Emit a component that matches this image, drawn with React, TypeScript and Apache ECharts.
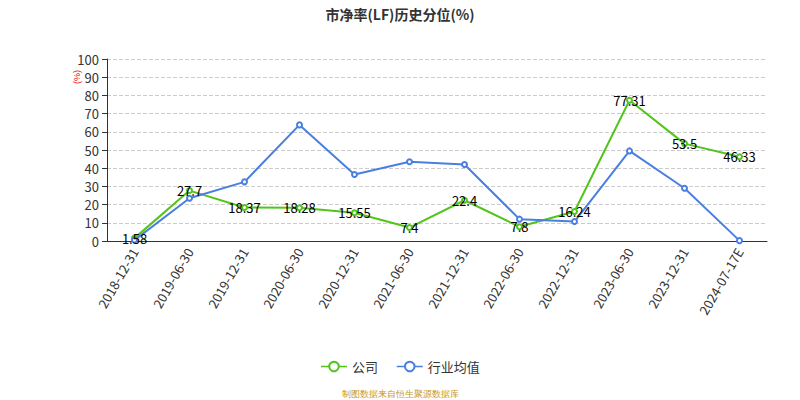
import React, { useEffect, useRef } from "react";
import * as echarts from "echarts";

const categories = [
  "2018-12-31", "2019-06-30", "2019-12-31", "2020-06-30", "2020-12-31", "2021-06-30",
  "2021-12-31", "2022-06-30", "2022-12-31", "2023-06-30", "2023-12-31", "2024-07-17E",
];
const companyValues = [1.58, 27.7, 18.37, 18.28, 15.55, 7.4, 22.4, 7.8, 16.24, 77.31, 53.5, 46.33];
const industryValues = [0.5, 23.5, 32.5, 63.8, 36.5, 43.5, 42, 12, 10.7, 49.5, 29, 0.2];
const yTicks = { min: 0, max: 100, interval: 10 };

export default function App() {
  const ref = useRef<HTMLDivElement>(null);
  useEffect(() => {
    if (!ref.current) return;
    const chart = echarts.init(ref.current, undefined, { renderer: "svg" });
    chart.setOption({
      animation: false,
      textStyle: { fontFamily: "'Noto Sans CJK SC', 'Noto Sans', sans-serif" },
      title: {
        text: "市净率(LF)历史分位(%)",
        left: "center",
        top: 2,
        textStyle: { fontSize: 14, fontWeight: "bold", color: "#333" },
      },
      grid: { left: 107, right: 33, top: 59, bottom: 159 },
      legend: {
        bottom: 22,
        left: "center",
        itemGap: 18,
        itemWidth: 26,
        itemHeight: 12,
        lineStyle: { width: 1.5 },
        itemStyle: { borderWidth: 1.2 },
        textStyle: { fontSize: 13, color: "#333" },
        data: ["公司", "行业均值"],
      },
      graphic: [
        {
          type: "text",
          x: 72,
          y: 84,
          rotation: Math.PI / 2,
          style: { text: "(%)", fill: "#e00", fontSize: 9 },
        },
        {
          type: "text",
          left: "center",
          top: 389,
          style: { text: "制图数据来自恒生聚源数据库", fill: "#c8961e", fontSize: 9 },
        },
      ],
      xAxis: {
        type: "category",
        data: categories,
        boundaryGap: true,
        axisLine: { lineStyle: { color: "#333" } },
        axisTick: { alignWithLabel: false, lineStyle: { color: "#333" } },
        axisLabel: { rotate: 60, color: "#333", fontSize: 13, interval: 0 },
      },
      yAxis: {
        type: "value",
        min: yTicks.min,
        max: yTicks.max,
        interval: yTicks.interval,
        axisLine: { show: true, lineStyle: { color: "#333" } },
        axisTick: { show: true, lineStyle: { color: "#333" } },
        axisLabel: { color: "#333", fontSize: 13 },
        splitLine: { lineStyle: { type: "dashed", color: "#ccc" } },
      },
      series: [
        {
          name: "公司",
          type: "line",
          data: companyValues,
          symbol: "emptyCircle",
          symbolSize: 5,
          itemStyle: { color: "#52c41a" },
          lineStyle: { width: 2, color: "#52c41a" },
          label: { show: true, position: "inside", color: "#000", fontSize: 13 },
        },
        {
          name: "行业均值",
          type: "line",
          data: industryValues,
          symbol: "emptyCircle",
          symbolSize: 5,
          itemStyle: { color: "#4a7fe0" },
          lineStyle: { width: 2, color: "#4a7fe0" },
        },
      ],
    });
    return () => chart.dispose();
  }, []);
  return (
    <div
      ref={ref}
      style={{ position: "absolute", left: 0, top: 0, width: 800, height: 400 }}
    />
  );
}
